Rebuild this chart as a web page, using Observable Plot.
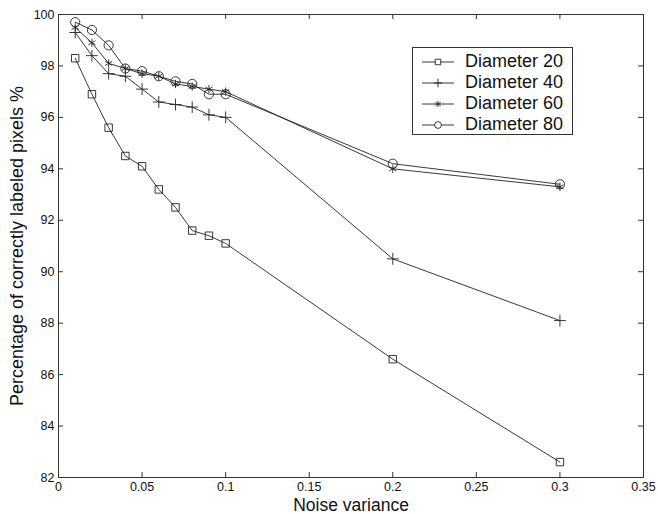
<!DOCTYPE html>
<html>
<head>
<meta charset="utf-8">
<script src="https://cdn.jsdelivr.net/npm/d3@7"></script>
<script src="https://cdn.jsdelivr.net/npm/@observablehq/plot@0.6"></script>
<style>
  html, body { margin: 0; padding: 0; background: #fff; }
  #wrap { position: relative; width: 658px; height: 514px; font-family: "Liberation Sans", Arial, sans-serif; }
  #legend { position: absolute; left: 412px; top: 47px; width: 159px; height: 86px; border: 1px solid #333; background: #fff; }
  .row { position: absolute; left: 0; height: 21px; display: flex; align-items: center; font-size: 18px; color: #111; }
  .row svg { margin-left: 9px; margin-right: 11px; }
</style>
</head>
<body>
<div id="wrap"></div>
<script>
const noise = [0.01, 0.02, 0.03, 0.04, 0.05, 0.06, 0.07, 0.08, 0.09, 0.1, 0.2, 0.3];
const series = ["Diameter 20", "Diameter 40", "Diameter 60", "Diameter 80"];
const d20 = [98.3, 96.9, 95.6, 94.5, 94.1, 93.2, 92.5, 91.6, 91.4, 91.1, 86.6, 82.6];
const d40 = [99.3, 98.4, 97.7, 97.6, 97.1, 96.6, 96.5, 96.4, 96.1, 96.0, 90.5, 88.1];
const d60 = [99.5, 98.9, 98.1, 97.9, 97.7, 97.6, 97.3, 97.2, 97.1, 97.0, 94.0, 93.3];
const d80 = [99.7, 99.4, 98.8, 97.9, 97.8, 97.6, 97.4, 97.3, 96.9, 96.9, 94.2, 93.4];
const xTicks = [0, 0.05, 0.1, 0.15, 0.2, 0.25, 0.3, 0.35];
const yTicks = [82, 84, 86, 88, 90, 92, 94, 96, 98, 100];
const symbols = ["square", "plus", "asterisk", "circle"];
const symbolR = [4.2, 3.9, 3.9, 4.6];

const values = [d20, d40, d60, d80];
const data = [];
series.forEach((s, i) => noise.forEach((x, j) => data.push({series: s, x, y: values[i][j], k: i})));

const W = 658, H = 514, ML = 58, MR = 15, MT = 14, MB = 37;
const plotW = W - ML - MR, plotH = H - MT - MB, T = 5;
const ink = "#222";
const marks = [
  Plot.frame({stroke: "#333", strokeWidth: 1}),
  Plot.axisX(xTicks, {anchor: "bottom", tickSize: 0, tickPadding: 5, fontSize: 12.5, tickFormat: d => String(d), label: "Noise variance", labelAnchor: "center", labelArrow: "none", labelOffset: 33}),
  Plot.axisY(yTicks, {anchor: "left", tickSize: 0, tickPadding: 4, fontSize: 12.5, label: "Percentage of correctly labeled pixels %", labelAnchor: "center", labelArrow: "none", labelOffset: 48}),
  Plot.tickX(xTicks, {x: d => d, insetTop: plotH - T, stroke: "#333"}),
  Plot.tickX(xTicks, {x: d => d, insetBottom: plotH - T, stroke: "#333"}),
  Plot.tickY(yTicks, {y: d => d, insetRight: plotW - T, stroke: "#333"}),
  Plot.tickY(yTicks, {y: d => d, insetLeft: plotW - T, stroke: "#333"}),
];
series.forEach((s, i) => {
  const sub = data.filter(d => d.k === i);
  marks.push(Plot.line(sub, {x: "x", y: "y", stroke: ink, strokeWidth: 0.9}));
  marks.push(Plot.dot(sub, {x: "x", y: "y", symbol: () => symbols[i], r: symbolR[i], stroke: ink, strokeWidth: 0.9, fill: "none"}));
});

const chart = Plot.plot({
  width: W, height: H,
  marginLeft: ML, marginRight: MR, marginTop: MT, marginBottom: MB,
  style: {fontFamily: "'Liberation Sans', Arial, sans-serif", fontSize: "18px", color: "#111", background: "#fff"},
  x: {domain: [0, 0.35]},
  y: {domain: [82, 100]},
  symbol: {domain: symbols, range: symbols},
  marks
});
const wrap = document.getElementById("wrap");
wrap.appendChild(chart);
chart.querySelectorAll("g[aria-label='x-axis label'] text").forEach(t => t.setAttribute("font-size", "17.5"));
chart.querySelectorAll("g[aria-label='y-axis label'] text").forEach(t => t.setAttribute("font-size", "18"));

// legend
const legend = document.createElement("div");
legend.id = "legend";
const symMap = {square: d3.symbolSquare, plus: d3.symbolPlus, asterisk: d3.symbolAsterisk, circle: d3.symbolCircle};
series.forEach((s, i) => {
  const row = document.createElement("div");
  row.className = "row";
  row.style.top = (3 + i * 21) + "px";
  const sym = d3.symbol(symMap[symbols[i]], Math.PI * symbolR[i] * symbolR[i] * 0.55)();
  row.innerHTML = `<svg width="32" height="14" viewBox="-16 -7 32 14"><line x1="-16" x2="16" y1="0" y2="0" stroke="${ink}" stroke-width="0.9"/><path d="${sym}" fill="#fff" stroke="${ink}" stroke-width="0.9"/></svg><span>${s}</span>`;
  legend.appendChild(row);
});
wrap.appendChild(legend);
</script>
</body>
</html>
